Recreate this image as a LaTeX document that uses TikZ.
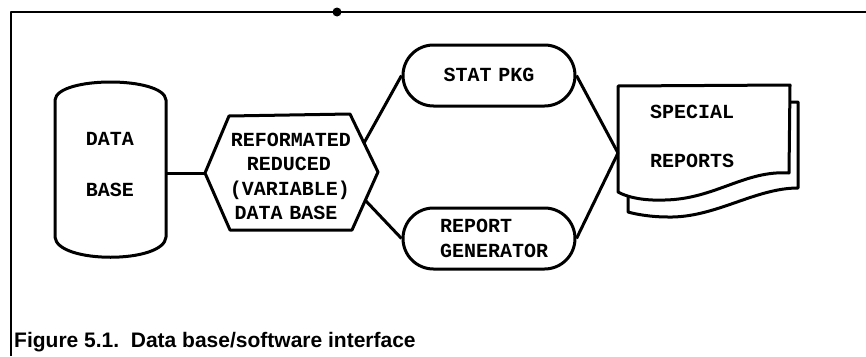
\documentclass[tikz,border=0pt]{standalone}
\usepackage{fontspec}
\usetikzlibrary{shapes.misc}
\newfontfamily\typefont{Liberation Mono}
\newfontfamily\capfont{Liberation Sans}
\begin{document}
\begin{tikzpicture}[x=1pt,y=-1pt,line join=round,
  shapeline/.style={line width=3pt},
  frameline/.style={line width=2pt},
  tlabel/.style={font=\typefont\bfseries\fontsize{20}{22}\selectfont,inner sep=0pt,anchor=center},
  pill/.style={rounded rectangle,draw,line width=3pt,minimum width=172pt,minimum height=61pt,inner sep=0pt}]
\useasboundingbox (0,0) rectangle (866,356);

% open frame: top and left rules only
\draw[frameline] (11,356) -- (11,12) -- (866,12);
\fill (337,12) circle (4.5pt);

% data base store
\draw[shapeline] (55,100) .. controls (57,76) and (164,76) .. (166,100)
  -- (166,237) .. controls (164,264) and (57,264) .. (55,237) -- cycle;
\node[tlabel] (dbtop) at (110,139) {DATA};
\node[tlabel] (dbbot) at (110,190) {BASE};
\coordinate (dbR) at (166,173);

% reduced data base (hexagon)
\coordinate (hexL) at (205,173);
\coordinate (hexTL) at (229,116);
\coordinate (hexTR) at (350,114);
\coordinate (hexR) at (378,172);
\coordinate (hexBR) at (352,230);
\coordinate (hexBL) at (230,230);
\draw[shapeline] (hexL) -- (hexTL) -- (hexTR) -- (hexR) -- (hexBR) -- (hexBL) -- cycle;
\node[tlabel] (hx1) at (291,140) {REFORMATED};
\node[tlabel] (hx2) at (289,164) {REDUCED};
\node[tlabel] (hx3) at (290,190) {(VARIABLE)};
\node[tlabel] (hx4) at (286,213) {DATA\,\,BASE};
\coordinate (hexA) at (364,143);
\coordinate (hexB) at (365,200);

% program boxes
\node[pill] (stat) at (489,75.5) {};
\node[tlabel] (statT) at (489,75) {STAT\,\,PKG};
\node[pill] (gen) at (489,238.5) {};
\node[tlabel,anchor=west] (genT1) at (440,226) {REPORT};
\node[tlabel,anchor=west] (genT2) at (440,251) {GENERATOR};

% report pages: back sheet, then front sheet over it
\draw[shapeline,fill=white] (628,102) -- (798,102) -- (798,188)
  .. controls (755,188) and (715,218) .. (668,217)
  .. controls (650,217) and (635,214) .. (628,212) -- cycle;
\draw[shapeline,fill=white] (618,86) -- (790,85) -- (789,173)
  .. controls (745,170) and (715,199) .. (665,200)
  .. controls (640,201) and (625,196) .. (618,192) -- cycle;
\node[tlabel] (rp1) at (692,112) {SPECIAL};
\node[tlabel] (rp2) at (692,161) {REPORTS};
\coordinate (rep) at (618,153);

% connectors
\draw[shapeline] (dbR) -- (hexL);
\draw[shapeline] (hexA) -- (stat.west);
\draw[shapeline] (hexB) -- (gen.west);
\draw[shapeline] (stat.east) -- (rep);
\draw[shapeline] (gen.east) -- (rep);

% caption
\node[font=\capfont\bfseries\fontsize{21}{24}\selectfont,anchor=base west,inner sep=0pt] (cap)
  at (14,347) {Figure 5.1.\ \ Data base/software interface};
\end{tikzpicture}
\end{document}
